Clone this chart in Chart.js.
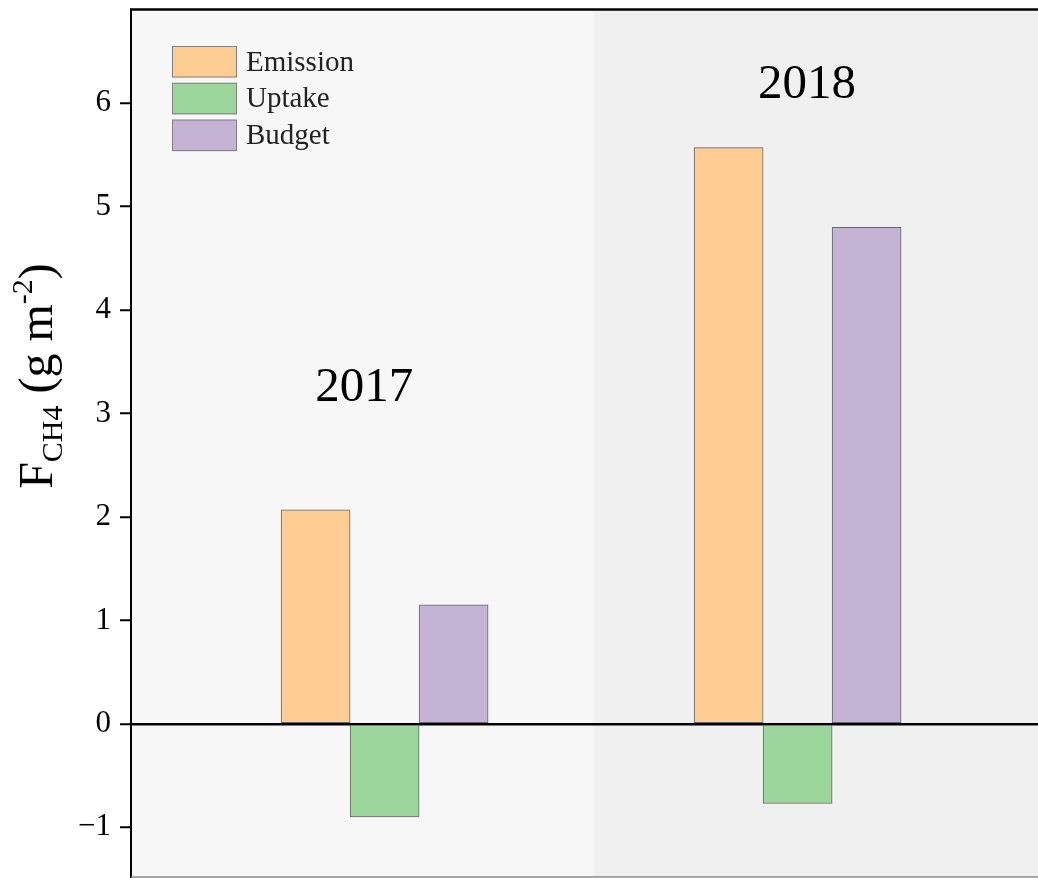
<!DOCTYPE html>
<html>
<head>
<meta charset="utf-8">
<script src="https://cdn.jsdelivr.net/npm/chart.js@4.4.0/dist/chart.umd.min.js"></script>
<style>
  body { margin: 0; background: #fff; }
</style>
</head>
<body>
<canvas id="fluxChart" width="1038" height="878"></canvas>
<script>
const years = [2017, 2018];
const emission = [2.07, 5.57];
const uptake = [-0.90, -0.77];
const budget = [1.15, 4.80];
const seriesNames = ['Emission', 'Uptake', 'Budget'];
const seriesColors = ['#fdcd93', '#9dd69c', '#c5b3d6'];
const yTicks = [-1, 0, 1, 2, 3, 4, 5, 6];

const serif = 'Liberation Serif, Times New Roman, serif';

function toPoints(vals) {
  return vals.map((v, i) => ({ x: years[i], y: v }));
}

// panels, borders, year labels, legend and axis title
const decor = {
  id: 'decor',
  beforeDraw(chart) {
    const { ctx, chartArea: a, scales: { x } } = chart;
    const split = x.getPixelForValue(2017.507);
    ctx.save();
    ctx.fillStyle = '#f7f7f7';
    ctx.fillRect(a.left, a.top, split - a.left, a.bottom - a.top);
    ctx.fillStyle = '#f0f0f0';
    ctx.fillRect(split, a.top, a.right - split, a.bottom - a.top);
    ctx.restore();
  },
  afterDatasetsDraw(chart) {
    const { ctx, scales: { x, y } } = chart;
    ctx.save();
    ctx.fillStyle = '#000';
    ctx.font = '49px ' + serif;
    ctx.textAlign = 'center';
    ctx.textBaseline = 'alphabetic';
    ctx.fillText('2017', x.getPixelForValue(2016.951), y.getPixelForValue(3.125));
    ctx.fillText('2018', x.getPixelForValue(2018.023), y.getPixelForValue(6.05));
    ctx.restore();
  },
  afterDraw(chart) {
    const { ctx, chartArea: a } = chart;
    ctx.save();
    // top and bottom frame
    ctx.strokeStyle = '#000';
    ctx.lineWidth = 2.5;
    ctx.beginPath();
    ctx.moveTo(a.left - 1, a.top - 0.5);
    ctx.lineTo(a.right, a.top - 0.5);
    ctx.stroke();
    ctx.strokeStyle = '#8a8a8a';
    ctx.lineWidth = 1.5;
    ctx.beginPath();
    ctx.moveTo(a.left, a.bottom);
    ctx.lineTo(a.right, a.bottom);
    ctx.stroke();

    // legend
    ctx.font = '29px ' + serif;
    ctx.textAlign = 'left';
    ctx.textBaseline = 'middle';
    chart.data.datasets.forEach((ds, i) => {
      const top = 46 + i * 36.8;
      ctx.fillStyle = ds.backgroundColor;
      ctx.fillRect(172, top, 65, 31.5);
      ctx.strokeStyle = '#808080';
      ctx.lineWidth = 1;
      ctx.strokeRect(172.5, top + 0.5, 64, 30.5);
      ctx.fillStyle = '#222';
      ctx.fillText(ds.label, 246, top + 17);
    });

    // y axis title: F_CH4 (g m^-2)
    const parts = [
      { t: 'F', size: 48, dy: 0 },
      { t: 'CH4', size: 30, dy: 10 },
      { t: ' (g m', size: 48, dy: 0 },
      { t: '-2', size: 30, dy: -20 },
      { t: ')', size: 48, dy: 0 }
    ];
    let total = 0;
    parts.forEach(p => {
      ctx.font = p.size + 'px ' + serif;
      p.w = ctx.measureText(p.t).width;
      total += p.w;
    });
    ctx.translate(52, 376);
    ctx.rotate(-Math.PI / 2);
    ctx.fillStyle = '#000';
    ctx.textBaseline = 'alphabetic';
    let cx = -total / 2;
    parts.forEach(p => {
      ctx.font = p.size + 'px ' + serif;
      ctx.fillText(p.t, cx, p.dy);
      cx += p.w;
    });
    ctx.restore();
  }
};

const ctx = document.getElementById('fluxChart').getContext('2d');
const fluxChart = new Chart(ctx, {
  type: 'bar',
  data: {
    datasets: [
      { label: seriesNames[0], data: toPoints(emission), backgroundColor: seriesColors[0] },
      { label: seriesNames[1], data: toPoints(uptake), backgroundColor: seriesColors[1] },
      { label: seriesNames[2], data: toPoints(budget), backgroundColor: seriesColors[2] }
    ]
  },
  options: {
    responsive: false,
    animation: false,
    layout: { padding: { top: 10, bottom: 1, left: 0, right: 0 } },
    datasets: {
      bar: {
        barThickness: 69,
        borderWidth: 1,
        borderColor: '#666',
        borderSkipped: false
      }
    },
    plugins: {
      legend: { display: false },
      tooltip: { enabled: false }
    },
    scales: {
      x: {
        type: 'linear',
        min: 2016.386,
        max: 2018.582,
        offset: false,
        display: false
      },
      y: {
        min: -1.48,
        max: 6.9,
        afterBuildTicks: s => { s.ticks = yTicks.map(v => ({ value: v })); },
        afterFit: s => { s.width = 131; s.paddingTop = 0; s.paddingBottom = 0; },
        border: { display: true, color: '#000', width: 2 },
        grid: {
          drawOnChartArea: true,
          color: c => (c.tick && c.tick.value === 0 ? '#000' : 'rgba(0,0,0,0)'),
          lineWidth: 2.5,
          tickColor: '#000',
          tickWidth: 2,
          tickLength: 11
        },
        ticks: {
          color: '#000',
          padding: 9,
          font: { family: serif, size: 31 },
          callback: v => String(v).replace('-', '\u2212')
        }
      }
    }
  },
  plugins: [decor]
});
</script>
</body>
</html>
